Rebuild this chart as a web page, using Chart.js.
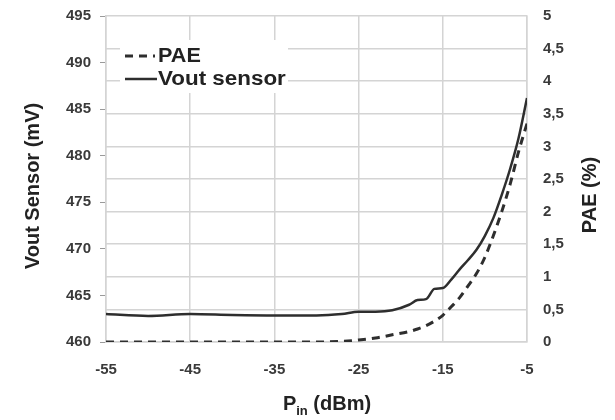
<!DOCTYPE html>
<html lang="en">
<head>
  <meta charset="UTF-8" />
  <title>Vout sensor and PAE vs Pin</title>
  <script src="https://cdn.jsdelivr.net/npm/chart.js"></script>
  <style>
    html, body { margin: 0; padding: 0; background: #fff; }
    canvas { display: block; }
  </style>
</head>
<body>
<canvas id="sensorChart" width="615" height="420"></canvas>
<script>
// input power sweep (dBm)
const pin = [-55, -50, -45, -40, -35, -30, -27, -25, -23, -21, -19, -18, -17, -16, -15, -14, -13, -12, -11, -10, -9, -8, -7, -6, -5];
// sensor output voltage (mV), left axis
const vout = [463.0, 462.8, 463.0, 462.9, 462.85, 462.85, 463.0, 463.25, 463.25, 463.4, 464.0, 464.5, 464.6, 465.7, 465.8, 466.7, 467.8, 468.8, 469.9, 471.4, 473.3, 475.8, 478.6, 481.9, 486.2];
// power added efficiency (%), right axis
const pae = [0, 0, 0, 0, 0, 0, 0.01, 0.03, 0.06, 0.11, 0.16, 0.2, 0.25, 0.32, 0.41, 0.54, 0.68, 0.86, 1.05, 1.3, 1.63, 2.0, 2.42, 2.92, 3.35];

const xTicks = [-55, -45, -35, -25, -15, -5];

const FONT = '"Liberation Sans", Arial, sans-serif';
const GRID = '#d4d4d4';
const LINE = '#2e2e2e';
const TICK_TXT = '#3a3a3a';

const toPts = ys => pin.map((x, i) => ({ x, y: ys[i] }));

// fixed axis box; no extra room reserved for the end labels
const fixWidth = w => s => { s.width = w; s.paddingTop = 0; s.paddingBottom = 0; };

// text drawn slightly stretched sideways
function wideText(ctx, txt, x, y, sx) {
  ctx.save();
  ctx.translate(x, y);
  ctx.scale(sx, 1);
  ctx.fillText(txt, 0, 0);
  ctx.restore();
}

// titles and legend drawn by hand (subscript, bottom-to-top right title, legend inside plot)
const decorations = {
  id: 'decorations',
  afterDraw(chart) {
    const ctx = chart.ctx;
    ctx.save();
    ctx.fillStyle = '#222';
    ctx.textAlign = 'center';
    ctx.textBaseline = 'middle';
    ctx.font = 'bold 20px ' + FONT;

    ctx.save();
    ctx.translate(33, 186);
    ctx.rotate(-Math.PI / 2);
    ctx.fillText('Vout Sensor (mV)', 0, 0);
    ctx.restore();

    ctx.save();
    ctx.translate(590, 195);
    ctx.rotate(-Math.PI / 2);
    ctx.fillText('PAE (%)', 0, 0);
    ctx.restore();

    // P_in (dBm)
    const big = 'bold 20px ' + FONT, small = 'bold 13px ' + FONT;
    ctx.textAlign = 'left';
    ctx.textBaseline = 'alphabetic';
    ctx.font = big;
    const wP = ctx.measureText('P').width;
    const wRest = ctx.measureText(' (dBm)').width;
    ctx.font = small;
    const wIn = ctx.measureText('in').width;
    let x = 327 - (wP + wIn + wRest) / 2;
    const base = 410;
    ctx.font = big;
    ctx.fillText('P', x, base);
    x += wP;
    ctx.font = small;
    ctx.fillText('in', x, base + 5);
    x += wIn;
    ctx.font = big;
    ctx.fillText(' (dBm)', x, base);

    // legend
    ctx.fillStyle = '#fff';
    ctx.fillRect(120, 40, 168, 53);
    ctx.strokeStyle = LINE;
    ctx.lineWidth = 3;
    ctx.setLineDash([8, 6]);
    ctx.beginPath();
    ctx.moveTo(125, 56);
    ctx.lineTo(155, 56);
    ctx.stroke();
    ctx.setLineDash([]);
    ctx.lineWidth = 2.5;
    ctx.beginPath();
    ctx.moveTo(125, 79);
    ctx.lineTo(157, 79);
    ctx.stroke();
    ctx.fillStyle = '#222';
    ctx.font = 'bold 20px ' + FONT;
    ctx.textBaseline = 'middle';
    wideText(ctx, 'PAE', 158, 56, 1.08);
    wideText(ctx, 'Vout sensor', 158, 79, 1.12);
    ctx.restore();
  }
};

new Chart(document.getElementById('sensorChart'), {
  type: 'line',
  data: {
    datasets: [
      {
        label: 'PAE',
        data: toPts(pae),
        yAxisID: 'y1',
        borderColor: LINE,
        borderWidth: 3,
        borderDash: [8, 6],
        pointRadius: 0,
        cubicInterpolationMode: 'monotone'
      },
      {
        label: 'Vout sensor',
        data: toPts(vout),
        yAxisID: 'y',
        borderColor: LINE,
        borderWidth: 2.5,
        pointRadius: 0,
        cubicInterpolationMode: 'monotone'
      }
    ]
  },
  options: {
    responsive: false,
    animation: false,
    devicePixelRatio: 1,
    layout: { padding: { top: 16, right: 0, bottom: 0, left: 0 } },
    plugins: { legend: { display: false }, tooltip: { enabled: false } },
    scales: {
      x: {
        type: 'linear',
        min: -55,
        max: -5,
        afterBuildTicks: s => { s.ticks = xTicks.map(v => ({ value: v })); },
        afterFit: s => { s.height = 78; },
        grid: { color: GRID, lineWidth: 1.5, drawTicks: false },
        border: { color: GRID, width: 1.5 },
        ticks: { color: TICK_TXT, font: { family: FONT, size: 15, weight: 'bold' }, padding: 19, maxRotation: 0 }
      },
      y: {
        position: 'left',
        min: 460,
        max: 495,
        afterFit: fixWidth(106),
        grid: { drawOnChartArea: false, color: '#9a9a9a', tickLength: 6 },
        border: { color: GRID, width: 1.5 },
        ticks: { stepSize: 5, color: TICK_TXT, font: { family: FONT, size: 15, weight: 'bold' }, padding: 9 }
      },
      y1: {
        position: 'right',
        min: 0,
        max: 5,
        afterFit: fixWidth(88),
        grid: { color: GRID, lineWidth: 1.5, drawTicks: false },
        border: { color: GRID, width: 1.5 },
        ticks: {
          stepSize: 0.5,
          color: TICK_TXT,
          font: { family: FONT, size: 15, weight: 'bold' },
          padding: 16,
          callback: v => String(v).replace('.', ',')
        }
      }
    }
  },
  plugins: [decorations]
});
</script>
</body>
</html>
